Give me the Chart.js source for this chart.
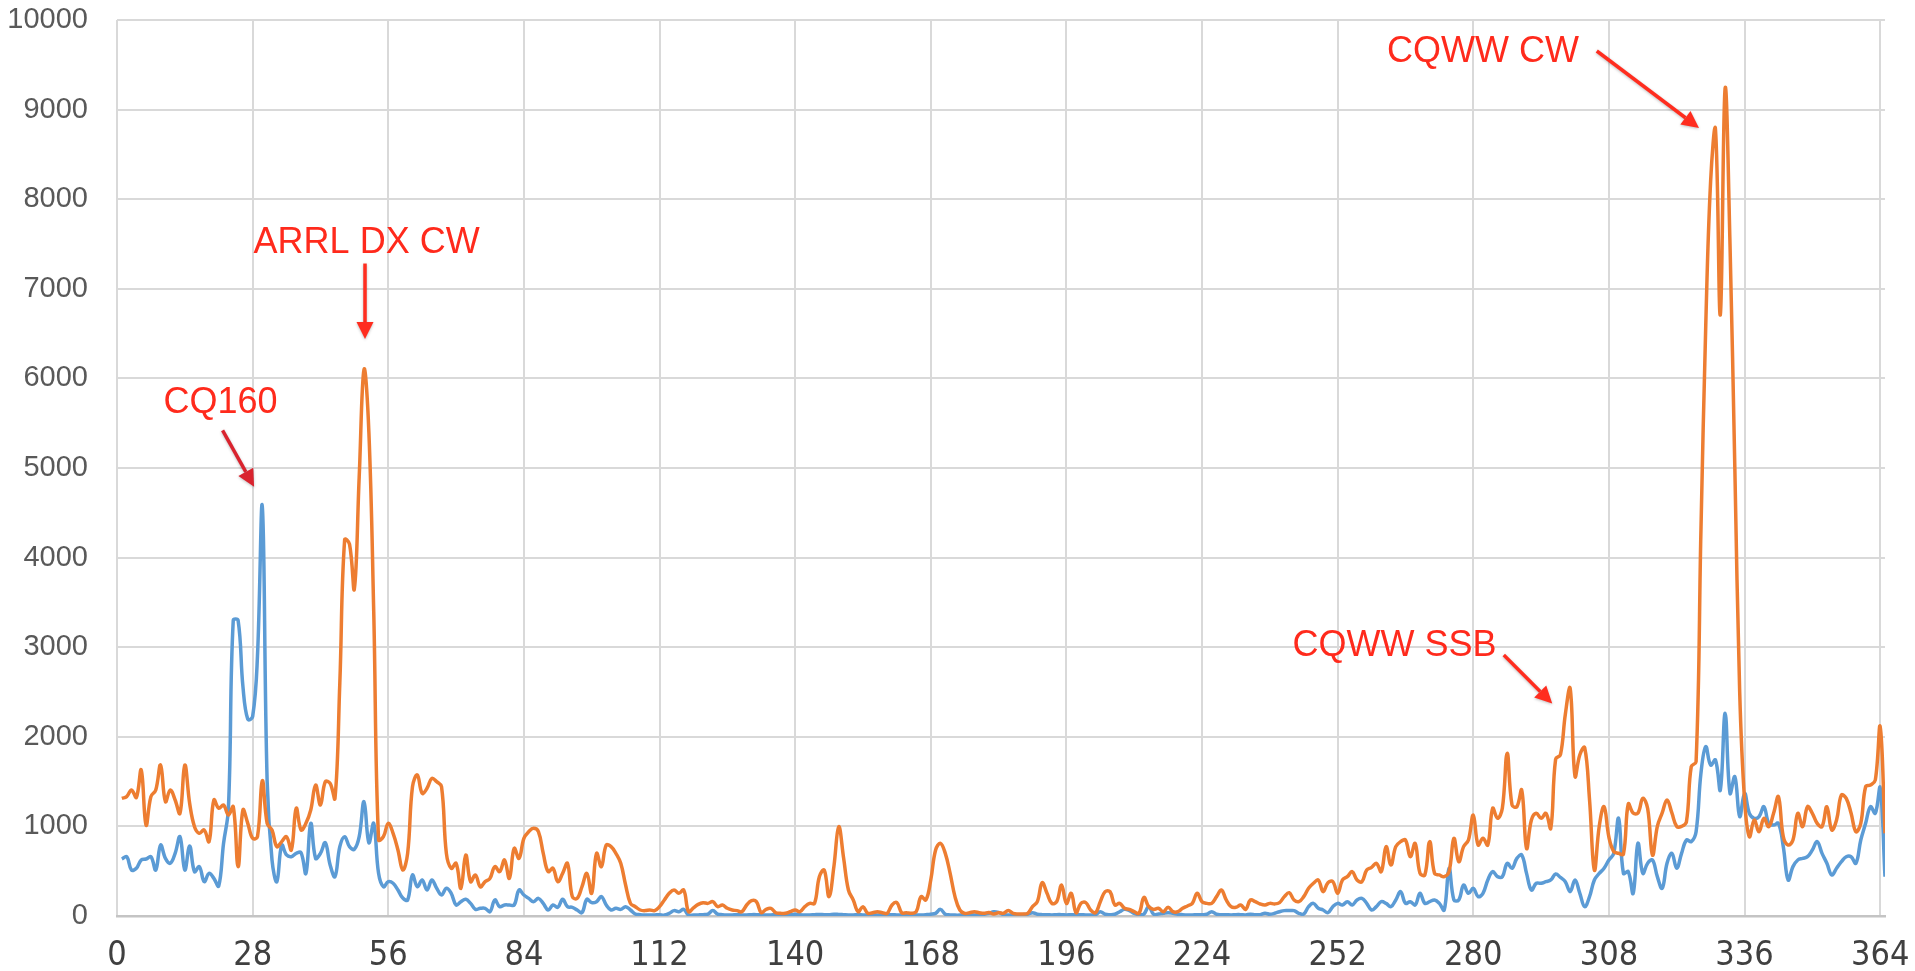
<!DOCTYPE html>
<html lang="en">
<head>
<meta charset="UTF-8">
<title>Contest activity by day of year</title>
<script src="https://cdn.jsdelivr.net/npm/chart.js@4"></script>
<style>
  html, body { margin: 0; padding: 0; background: #ffffff; }
  #wrap { width: 1915px; height: 971px; }
</style>
</head>
<body>
<div id="wrap"><canvas id="chart" width="1915" height="971"></canvas></div>
<script>
// day of year of the first value in each series
const firstDay = 1;

// orange series, one value per day (1..365)
const orangeValues = [
  1313,1332,1406,1324,1629,1015,1332,1406,1685,1276,
  1406,1295,1146,1685,1257,997,923,960,830,1295,
  1202,1239,1127,1220,551,1183,1034,867,885,1510,
  1034,960,774,830,885,737,1202,960,1034,1183,
  1462,1239,1499,1481,1313,2600,4200,4150,3650,4900,
  6100,5400,3400,850,885,1034,923,737,513,699,
  1443,1574,1369,1425,1536,1499,1443,699,532,588,
  309,681,383,458,327,383,420,551,495,625,
  420,755,643,867,941,978,941,699,495,532,
  383,476,588,216,197,327,476,253,699,551,
  792,774,699,588,346,141,104,67,60,67,
  60,104,179,253,290,253,290,48,90,130,
  149,141,160,104,123,86,67,60,48,123,
  171,160,37,74,86,37,30,30,48,67,
  48,104,141,141,439,513,216,551,997,650,
  290,179,48,104,30,37,48,37,30,123,
  149,37,37,30,48,216,179,402,737,811,
  699,476,216,67,30,37,48,37,30,40,
  22,37,30,60,30,22,22,30,104,160,
  372,253,141,160,346,141,253,37,141,149,
  67,37,160,272,272,123,141,86,74,48,
  30,208,104,74,86,48,97,48,48,86,
  112,141,253,160,141,141,216,290,179,104,
  97,123,74,179,160,134,123,141,135,150,
  216,260,179,160,216,309,365,402,272,372,
  383,253,402,439,495,402,383,513,543,588,
  495,774,569,774,830,848,662,811,476,458,
  830,476,458,439,495,867,606,774,848,1127,
  792,867,792,1202,1090,1202,1815,1239,1220,1406,
  755,1071,1146,1090,1146,978,1750,1800,2250,2541,
  1560,1800,1880,1300,513,1000,1220,880,720,700,
  690,1250,1150,1150,1313,1200,680,1000,1150,1295,
  1150,1000,1000,1050,1667,1722,4300,6600,8200,8780,
  6710,9240,7500,5000,2500,1300,885,1071,941,1090,
  997,1146,1332,885,792,848,1146,997,1220,1146,
  1034,997,1220,960,1071,1350,1313,1146,941,1034,
  1443,1462,1518,2113,923
];

// blue series, one value per day (1..365)
const blueValues = [
  636,662,513,532,625,636,662,513,792,643,
  588,699,885,513,781,495,551,383,476,420,
  335,811,1200,3300,3300,2560,2195,2225,2900,4570,
  1500,625,383,792,681,662,699,707,476,1034,
  643,699,818,569,439,774,885,774,744,885,
  1276,818,1034,476,327,383,365,290,200,179,
  458,327,402,290,402,309,234,309,253,123,
  160,186,141,74,86,86,48,179,104,123,
  123,123,290,234,197,160,197,141,67,123,
  97,186,104,97,67,37,186,149,160,216,
  123,67,86,74,104,67,22,15,12,12,
  12,15,10,30,60,48,74,10,10,12,
  15,22,60,22,15,12,12,15,12,12,
  15,15,12,10,12,15,12,12,15,20,
  15,12,12,15,18,15,15,20,18,15,
  12,12,15,12,12,10,12,12,12,15,
  12,12,12,10,12,12,15,20,30,74,
  20,12,10,10,12,12,10,12,20,30,
  48,40,15,12,12,15,15,20,37,20,
  15,15,12,15,15,12,15,15,15,12,
  12,15,48,20,15,20,48,74,60,30,
  15,22,104,20,22,30,37,30,20,15,
  12,12,15,15,20,48,20,15,15,12,
  15,15,12,20,15,15,30,20,30,48,
  60,60,60,30,22,104,141,86,67,37,
  104,141,123,160,123,179,197,141,67,104,
  160,141,104,179,272,141,160,123,253,141,
  160,179,141,67,532,179,179,346,253,309,
  216,253,402,495,439,439,588,532,643,681,
  476,290,365,365,383,402,469,430,383,272,
  402,253,104,216,402,476,532,625,699,1090,
  476,495,253,811,476,588,625,439,309,588,
  699,532,699,848,830,941,1592,1890,1685,1741,
  1406,2262,1369,1555,1109,1369,1146,1090,1109,1220,
  1034,1015,1034,774,402,551,625,643,662,737,
  830,699,588,458,532,606,662,662,588,848,
  1034,1220,1146,1432,439
];

const xTicks = [0, 28, 56, 84, 112, 140, 168, 196, 224, 252, 280, 308, 336, 364];
const yTicks = [0, 1000, 2000, 3000, 4000, 5000, 6000, 7000, 8000, 9000, 10000];

// callouts, placed in data units (day, value)
const notes = [
  { text: 'CQ160',      at: [9.6, 5614],   from: [21.8, 5420],  to: [28.3, 4790],  color: '#d9232e' },
  { text: 'ARRL DX CW', at: [28.2, 7394],  from: [51.2, 7282],  to: [51.2, 6440],  color: '#ff2d1f' },
  { text: 'CQWW CW',    at: [262.2, 9526], from: [305.5, 9654], to: [326.6, 8795], color: '#ff2d1f' },
  { text: 'CQWW SSB',   at: [242.7, 2902], from: [286.3, 2913], to: [296.3, 2372], color: '#ff2d1f' }
];

function toPoints(values) {
  return values.map((v, i) => ({ x: firstDay + i, y: v }));
}

function drawArrow(ctx, x1, y1, x2, y2, color) {
  const head = 17;
  const ang = Math.atan2(y2 - y1, x2 - x1);
  const bx = x2 - head * Math.cos(ang);
  const by = y2 - head * Math.sin(ang);
  ctx.save();
  ctx.shadowColor = 'rgba(0,0,0,0.25)';
  ctx.shadowBlur = 3;
  ctx.shadowOffsetY = 1;
  ctx.strokeStyle = color;
  ctx.fillStyle = color;
  ctx.lineWidth = 3.5;
  ctx.beginPath();
  ctx.moveTo(x1, y1);
  ctx.lineTo(bx, by);
  ctx.stroke();
  ctx.beginPath();
  ctx.moveTo(x2, y2);
  ctx.lineTo(bx + 8.5 * Math.sin(ang), by - 8.5 * Math.cos(ang));
  ctx.lineTo(bx - 8.5 * Math.sin(ang), by + 8.5 * Math.cos(ang));
  ctx.closePath();
  ctx.fill();
  ctx.restore();
}

const notesPlugin = {
  id: 'notes',
  afterDatasetsDraw(chart) {
    const { ctx } = chart;
    const xs = chart.scales.x;
    const ys = chart.scales.y;
    ctx.save();
    ctx.font = '36px "Liberation Sans", Arial, sans-serif';
    ctx.textAlign = 'left';
    ctx.textBaseline = 'alphabetic';
    notes.forEach(n => {
      ctx.fillStyle = '#ff2a1c';
      ctx.fillText(n.text, xs.getPixelForValue(n.at[0]), ys.getPixelForValue(n.at[1]));
      drawArrow(ctx,
        xs.getPixelForValue(n.from[0]), ys.getPixelForValue(n.from[1]),
        xs.getPixelForValue(n.to[0]), ys.getPixelForValue(n.to[1]),
        n.color);
    });
    ctx.restore();
  }
};

// tick padding would otherwise be added to the chart area margins
function noOverflow(s) {
  s.paddingTop = 0;
  s.paddingBottom = 0;
  s.paddingLeft = 0;
  s.paddingRight = 0;
}

const ctx = document.getElementById('chart').getContext('2d');
new Chart(ctx, {
  type: 'line',
  data: {
    datasets: [
      {
        data: toPoints(orangeValues),
        borderColor: '#ED7D31',
        borderWidth: 3.5,
        pointRadius: 0,
        tension: 0.4,
        fill: false
      },
      {
        data: toPoints(blueValues),
        borderColor: '#5B9BD5',
        borderWidth: 3.5,
        pointRadius: 0,
        tension: 0.4,
        fill: false
      }
    ]
  },
  options: {
    responsive: false,
    animation: false,
    layout: { padding: { top: 20, right: 30, left: 0, bottom: 0 } },
    plugins: {
      legend: { display: false },
      tooltip: { enabled: false }
    },
    scales: {
      x: {
        type: 'linear',
        min: 0,
        max: 365,
        afterBuildTicks: s => { s.ticks = xTicks.map(v => ({ value: v })); },
        afterFit: s => { s.height = 55; noOverflow(s); },
        grid: { color: '#D9D9D9', lineWidth: 2, drawTicks: false },
        border: { display: true, color: '#C4C4C4', width: 2.5 },
        ticks: {
          color: '#404040',
          font: { family: '"Liberation Sans Narrow", "DejaVu Sans Condensed", sans-serif', size: 34 },
          padding: 20,
          maxRotation: 0,
          autoSkip: false,
          callback: v => String(v)
        }
      },
      y: {
        min: 0,
        max: 10000,
        afterBuildTicks: s => { s.ticks = yTicks.map(v => ({ value: v })); },
        afterFit: s => { s.width = 117; noOverflow(s); },
        grid: { color: '#D9D9D9', lineWidth: 2, drawTicks: false },
        border: { display: false },
        ticks: {
          color: '#595959',
          font: { family: '"Liberation Sans", Arial, sans-serif', size: 29 },
          padding: 29,
          callback: v => String(v)
        }
      }
    }
  },
  plugins: [notesPlugin]
});
</script>
</body>
</html>
